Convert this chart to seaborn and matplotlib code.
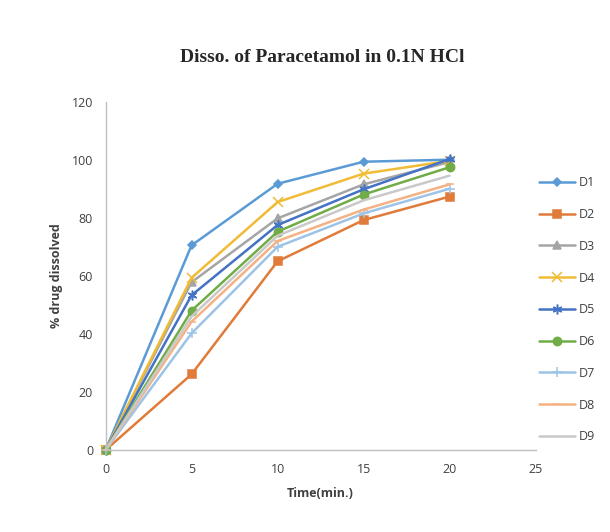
import matplotlib
matplotlib.use("Agg")
import matplotlib.pyplot as plt
import seaborn as sns
import pandas as pd

time_min = [0, 5, 10, 15, 20]
series_names = ["D1", "D2", "D3", "D4", "D5", "D6", "D7", "D8", "D9"]
D1 = [0, 70.5, 91.7, 99.3, 100.0]
D2 = [0, 26.1, 65.0, 79.2, 87.3]
D3 = [0, 57.8, 79.8, 91.5, 99.2]
D4 = [0, 59.3, 85.4, 95.2, 99.6]
D5 = [0, 53.3, 77.5, 89.8, 100.2]
D6 = [0, 48.0, 75.2, 88.0, 97.4]
D7 = [0, 40.2, 70.0, 81.5, 90.0]
D8 = [0, 44.2, 72.0, 82.8, 91.5]
D9 = [0, 46.0, 73.8, 86.0, 94.5]
values = [D1, D2, D3, D4, D5, D6, D7, D8, D9]

colors = ["#5B9BD5", "#E07B39", "#A5A5A5", "#F0BC35", "#4472C4",
          "#70AD47", "#9DC3E6", "#F4B183", "#C9C9C9"]
markers = ["D", "s", "^", "x", (6, 2, 0), "o", "+", "_", None]
msizes = [4.5, 5.5, 5.5, 6.5, 7, 6, 7, 6, 0]

sns.set_theme(style="white")
plt.rcParams["font.family"] = ["Open Sans", "DejaVu Sans"]

fig = plt.figure(figsize=(6.10, 5.32), dpi=100)
ax = fig.add_axes([0.173, 0.154, 0.705, 0.655])

for name, vals, c, m, ms in zip(series_names, values, colors, markers, msizes):
    df = pd.DataFrame({"t": time_min, "v": vals})
    kw = dict(marker=m, markersize=ms, markeredgecolor=c, markerfacecolor=c,
              markeredgewidth=1.1) if m is not None else {}
    sns.lineplot(data=df, x="t", y="v", ax=ax, color=c, linewidth=1.8,
                 label=name, clip_on=False, **kw)

ax.set_xlim(0, 25)
ax.set_ylim(0, 120)
ax.set_xticks([0, 5, 10, 15, 20, 25])
ax.set_yticks([0, 20, 40, 60, 80, 100, 120])
for s in ["top", "right"]:
    ax.spines[s].set_visible(False)
for s in ["left", "bottom"]:
    ax.spines[s].set_color("#BFBFBF")
    ax.spines[s].set_linewidth(1.0)
ax.tick_params(axis="both", length=0, labelsize=9, colors="#404040", pad=9)
ax.grid(False)

ax.set_xlabel("Time(min.)", fontsize=9, fontweight="bold", color="#404040", labelpad=8)
ax.set_ylabel("% drug dissolved", fontsize=9, fontweight="bold", color="#404040", labelpad=6)

fig.text(0.528, 0.892, "Disso. of Paracetamol in 0.1N HCl", ha="center", va="center",
         fontsize=14, fontweight="bold", family=["Liberation Serif", "DejaVu Serif"])

leg = ax.legend(loc="upper left", bbox_to_anchor=(0.875, 0.678),
                bbox_transform=fig.transFigure, frameon=False, fontsize=9,
                labelspacing=1.5, handlelength=2.9, handletextpad=0.3,
                borderaxespad=0)
for t in leg.get_texts():
    t.set_color("#404040")

fig.savefig("out.png", dpi=100, facecolor="white")
